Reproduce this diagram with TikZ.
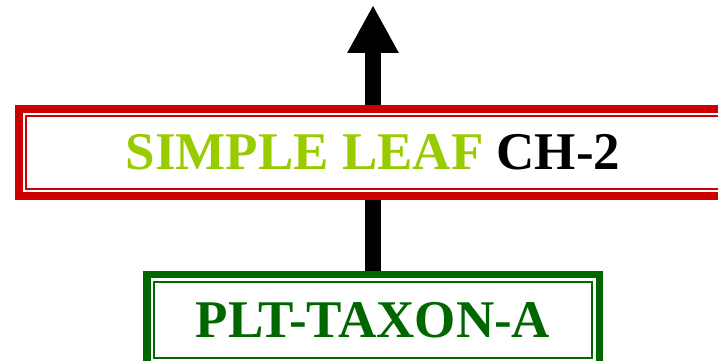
\documentclass[tikz,border=0pt]{standalone}
\usepackage{fontspec}
\setmainfont{Liberation Serif}
\usetikzlibrary{arrows.meta}
\definecolor{leafred}{RGB}{204,0,0}
\definecolor{taxongreen}{RGB}{0,102,0}
\definecolor{leafgreen}{RGB}{153,204,0}

\begin{document}
\begin{tikzpicture}[x=1pt,y=1pt]
	\tikzstyle{box} = [rectangle,fill=white,line width=7.5pt,inner sep=0pt,font=\fontsize{53}{61}\selectfont\bfseries]
	\tikzstyle{rim} = [line width=2pt]
	\tikzstyle{edge} = [line width=16pt,-{Triangle[width=48pt,length=48pt]}]
	\useasboundingbox (0,0) rectangle (718,361);
	\node[box,draw=taxongreen,text=taxongreen,minimum width=452.5pt,minimum height=91pt] (taxon) at (373,41) {PLT-TAXON-A};
	\coordinate (top) at (373,356);
	\draw[edge] (taxon.north) -- (top);
	\node[box,draw=leafred,minimum width=708pt,minimum height=87pt] (leaf) at (373,208.6) {\textcolor{leafgreen}{SIMPLE LEAF} CH-2};
	\draw[rim,draw=taxongreen] ([xshift=10.75pt,yshift=-11.25pt]taxon.north west) rectangle ([xshift=-10.75pt,yshift=11.25pt]taxon.south east);
	\draw[rim,draw=leafred] ([xshift=10.75pt,yshift=-10.75pt]leaf.north west) rectangle ([xshift=-10.75pt,yshift=10.75pt]leaf.south east);
\end{tikzpicture}
\end{document}
